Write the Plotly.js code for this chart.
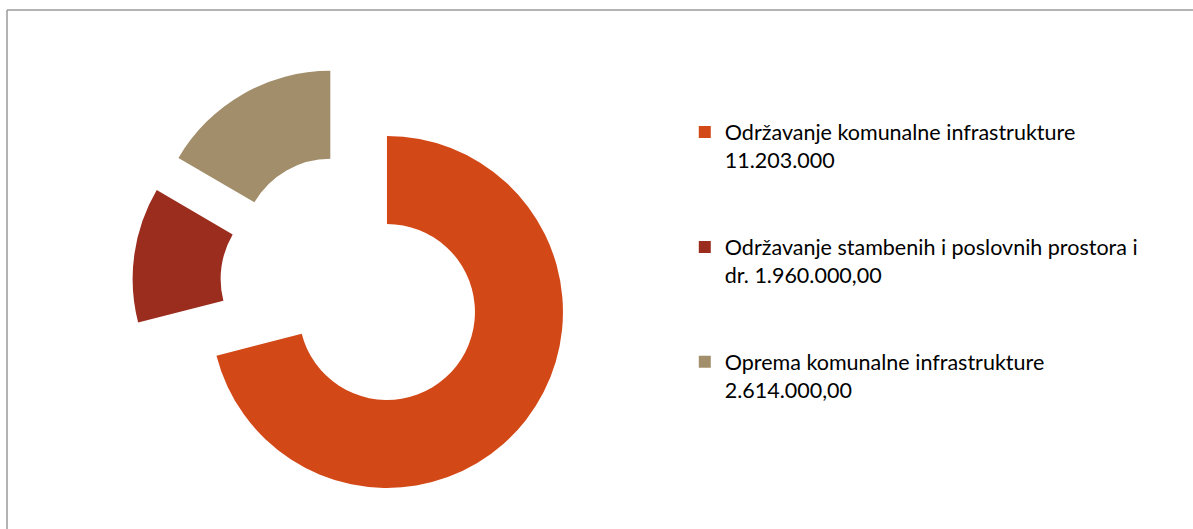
<!DOCTYPE html>
<html>
<head>
<meta charset="utf-8">
<script src="https://cdn.plot.ly/plotly-3.0.1.min.js"></script>
<style>html,body{margin:0;padding:0;background:#fff;}#chart{width:1193px;height:529px;}</style>
</head>
<body>
<div id="chart"></div>
<script>
const categories = [
  "Održavanje komunalne infrastrukture",
  "Održavanje stambenih i poslovnih prostora i",
  "Oprema komunalne infrastrukture"
];
const valueLabels = ["11.203.000", "dr. 1.960.000,00", "2.614.000,00"];
const values = [11203000, 1960000, 2614000];
const colors = ["#D34817", "#9B2D1F", "#A28E6A"];

const legendLabels = categories.map((c, i) => c + "<br>" + valueLabels[i] + "<br> <br> ");

const trace = {
  type: "pie",
  labels: legendLabels,
  values: values,
  sort: false,
  direction: "clockwise",
  rotation: 0,
  hole: 0.5,
  pull: [0.25, 0.25, 0.25],
  marker: { colors: colors, line: { width: 0 } },
  textinfo: "none",
  hoverinfo: "none",
  domain: { x: [0.11081, 0.47963], y: [0.04537, 0.87713] }
};

const layout = {
  width: 1193,
  height: 529,
  margin: { l: 0, r: 0, t: 0, b: 0 },
  paper_bgcolor: "#ffffff",
  plot_bgcolor: "#ffffff",
  showlegend: true,
  legend: {
    x: 0.574, y: 0.789, xanchor: "left", yanchor: "top",
    valign: "top",
    font: { family: "Lato, 'Open Sans', sans-serif", size: 21.5, color: "#000000" },
    bgcolor: "rgba(0,0,0,0)",
    itemclick: false, itemdoubleclick: false
  },
  shapes: [
    { type: "line", xref: "paper", yref: "paper", x0: 0.00587, x1: 1, y0: 0.9811, y1: 0.9811,
      line: { color: "#9a9a9a", width: 1.5 } },
    { type: "line", xref: "paper", yref: "paper", x0: 0.00587, x1: 0.00587, y0: 0, y1: 0.9811,
      line: { color: "#9a9a9a", width: 1.5 } }
  ]
};

Plotly.newPlot("chart", [trace], layout, { displayModeBar: false, staticPlot: true });
</script>
</body>
</html>
